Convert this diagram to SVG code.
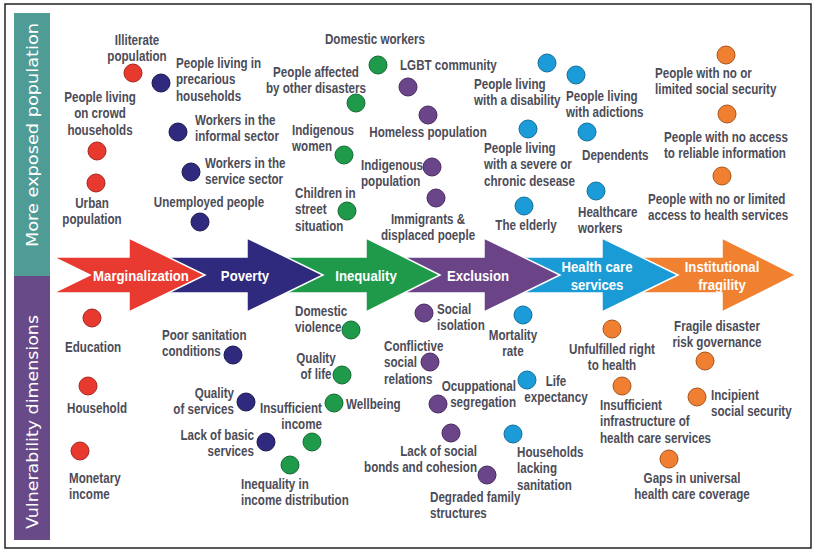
<svg xmlns="http://www.w3.org/2000/svg" width="818" height="552" viewBox="0 0 818 552">
<style>
.t{font-family:"Liberation Sans",Arial,sans-serif;font-weight:bold;font-size:14px;fill:#4c4c58}
.m{text-anchor:middle}.e{text-anchor:end}
.a{font-family:"Liberation Sans",Arial,sans-serif;font-weight:bold;font-size:15.5px;fill:#fff;text-anchor:middle}
.side{font-family:"DejaVu Sans",sans-serif;font-size:16px;fill:#fff;text-anchor:middle}
.ar{stroke:#fff;stroke-width:1.5;stroke-linejoin:miter}
circle{stroke-width:1}
.cr{fill:#e8392f;stroke:#a3281f}
.cn{fill:#2f2a7e;stroke:#1c1950}
.cg{fill:#1f9a4b;stroke:#136a32}
.cp{fill:#6b4589;stroke:#48295e}
.cb{fill:#1b9bd7;stroke:#126f9c}
.co{fill:#f07f32;stroke:#a8531a}
</style>
<rect x="5" y="4" width="806" height="544" fill="#fff" stroke="#222" stroke-width="1.5"/>
<g id="side-panel">
<rect x="14" y="13" width="36" height="263" fill="#4f9c97"/>
<rect x="14" y="276" width="36" height="264" fill="#694a88"/>
<text class="side" transform="translate(37.5 135) rotate(-90)" textLength="224" lengthAdjust="spacingAndGlyphs">More exposed population</text>
<text class="side" transform="translate(37.5 422) rotate(-90)" textLength="214" lengthAdjust="spacingAndGlyphs">Vulnerability dimensions</text>
</g>
<g id="arrows">
<polygon class="ar" fill="#f08131" points="615,257 722,257 722,238 796,275 722,312 722,293 615,293"/>
<polygon class="ar" fill="#1a9bd5" points="500,257 602,257 602,238 678,275 602,312 602,293 500,293"/>
<polygon class="ar" fill="#6b4387" points="380,257 484,257 484,238 560,275 484,312 484,293 380,293"/>
<polygon class="ar" fill="#1f9a4b" points="260,257 366,257 366,238 440,275 366,312 366,293 260,293"/>
<polygon class="ar" fill="#2f2a7e" points="140,257 247,257 247,238 323,275 247,312 247,293 140,293"/>
<polygon class="ar" fill="#e83a30" points="53,257 129,257 129,238 205,275 129,312 129,293 53,293 90,275"/>
<text class="a" transform="translate(141 280.5) scale(0.85 1)">Marginalization</text>
<text class="a" transform="translate(245 280.5) scale(0.85 1)">Poverty</text>
<text class="a" transform="translate(366 280.5) scale(0.85 1)">Inequality</text>
<text class="a" transform="translate(478 280.5) scale(0.85 1)">Exclusion</text>
<text class="a" transform="translate(597 272) scale(0.85 1)"><tspan x="0">Health care</tspan><tspan x="0" dy="18">services</tspan></text>
<text class="a" transform="translate(722 272) scale(0.85 1)"><tspan x="0">Institutional</tspan><tspan x="0" dy="18">fragility</tspan></text>
</g>
<g id="n1"><circle class="cr" cx="133" cy="73" r="9"/><text class="t m" transform="translate(137 45) scale(0.83 1)"><tspan x="0">Illiterate</tspan><tspan x="0" dy="16.5">population</tspan></text></g>
<g id="n2"><circle class="cr" cx="97" cy="151" r="9"/><text class="t m" transform="translate(100 102) scale(0.83 1)"><tspan x="0">People living</tspan><tspan x="0" dy="16.5">on crowd</tspan><tspan x="0" dy="16.5">households</tspan></text></g>
<g id="n3"><circle class="cr" cx="96" cy="183" r="9"/><text class="t m" transform="translate(92 208) scale(0.83 1)"><tspan x="0">Urban</tspan><tspan x="0" dy="16.5">population</tspan></text></g>
<g id="n4"><circle class="cn" cx="161" cy="83" r="9"/><text class="t" transform="translate(176 68) scale(0.83 1)"><tspan x="0">People living in</tspan><tspan x="0" dy="16.5">precarious</tspan><tspan x="0" dy="16.5">households</tspan></text></g>
<g id="n5"><circle class="cn" cx="178" cy="132" r="9"/><text class="t" transform="translate(195 125) scale(0.83 1)"><tspan x="0">Workers in the</tspan><tspan x="0" dy="16.5">informal sector</tspan></text></g>
<g id="n6"><circle class="cn" cx="191" cy="172" r="9"/><text class="t" transform="translate(205 168) scale(0.83 1)"><tspan x="0">Workers in the</tspan><tspan x="0" dy="16.5">service sector</tspan></text></g>
<g id="n7"><circle class="cn" cx="200" cy="222" r="9"/><text class="t m" transform="translate(209 207) scale(0.83 1)">Unemployed people</text></g>
<g id="n8"><circle class="cg" cx="378" cy="65" r="9"/><text class="t m" transform="translate(375 44) scale(0.83 1)">Domestic workers</text></g>
<g id="n9"><circle class="cg" cx="356" cy="103" r="9"/><text class="t m" transform="translate(316 77) scale(0.83 1)"><tspan x="0">People affected</tspan><tspan x="0" dy="16.5">by other disasters</tspan></text></g>
<g id="n10"><circle class="cg" cx="344" cy="155" r="9"/><text class="t" transform="translate(292 135) scale(0.83 1)"><tspan x="0">Indigenous</tspan><tspan x="0" dy="16.5">women</tspan></text></g>
<g id="n11"><circle class="cg" cx="347" cy="211" r="9"/><text class="t" transform="translate(295 198) scale(0.83 1)"><tspan x="0">Children in</tspan><tspan x="0" dy="16.5">street</tspan><tspan x="0" dy="16.5">situation</tspan></text></g>
<g id="n12"><circle class="cp" cx="408" cy="87" r="9"/><text class="t" transform="translate(400 70) scale(0.83 1)">LGBT community</text></g>
<g id="n13"><circle class="cp" cx="428" cy="115" r="9"/><text class="t m" transform="translate(428 137) scale(0.83 1)">Homeless population</text></g>
<g id="n14"><circle class="cp" cx="432" cy="167" r="9"/><text class="t" transform="translate(361 170) scale(0.83 1)"><tspan x="0">Indigenous</tspan><tspan x="0" dy="16.5">population</tspan></text></g>
<g id="n15"><circle class="cp" cx="436" cy="198" r="9"/><text class="t m" transform="translate(428 224) scale(0.83 1)"><tspan x="0">Immigrants &amp;</tspan><tspan x="0" dy="16.5">displaced poeple</tspan></text></g>
<g id="n16"><circle class="cb" cx="547" cy="63" r="9"/><text class="t" transform="translate(474 89) scale(0.83 1)"><tspan x="0">People living</tspan><tspan x="0" dy="16.5">with a disability</tspan></text></g>
<g id="n17"><circle class="cb" cx="576" cy="75" r="9"/><text class="t" transform="translate(566 101) scale(0.83 1)"><tspan x="0">People living</tspan><tspan x="0" dy="16.5">with adictions</tspan></text></g>
<g id="n18"><circle class="cb" cx="528" cy="129" r="9"/><text class="t" transform="translate(484 153) scale(0.83 1)"><tspan x="0">People living</tspan><tspan x="0" dy="16.5">with a severe or</tspan><tspan x="0" dy="16.5">chronic desease</tspan></text></g>
<g id="n19"><circle class="cb" cx="587" cy="132" r="9"/><text class="t" transform="translate(582 160) scale(0.83 1)">Dependents</text></g>
<g id="n20"><circle class="cb" cx="524" cy="206" r="9"/><text class="t m" transform="translate(526 230) scale(0.83 1)">The elderly</text></g>
<g id="n21"><circle class="cb" cx="596" cy="191" r="9"/><text class="t" transform="translate(578 217) scale(0.83 1)"><tspan x="0">Healthcare</tspan><tspan x="0" dy="16.5">workers</tspan></text></g>
<g id="n22"><circle class="co" cx="726" cy="55" r="9"/><text class="t" transform="translate(655 78) scale(0.83 1)"><tspan x="0">People with no or</tspan><tspan x="0" dy="16.5">limited social security</tspan></text></g>
<g id="n23"><circle class="co" cx="727" cy="114" r="9"/><text class="t" transform="translate(664 142) scale(0.83 1)"><tspan x="0">People with no access</tspan><tspan x="0" dy="16.5">to reliable information</tspan></text></g>
<g id="n24"><circle class="co" cx="722" cy="176" r="9"/><text class="t" transform="translate(648 204) scale(0.83 1)"><tspan x="0">People with no or limited</tspan><tspan x="0" dy="16.5">access to health services</tspan></text></g>
<g id="b1"><circle class="cr" cx="92" cy="318" r="9"/><text class="t" transform="translate(65 352) scale(0.83 1)">Education</text></g>
<g id="b2"><circle class="cr" cx="88" cy="386" r="9"/><text class="t" transform="translate(67 413) scale(0.83 1)">Household</text></g>
<g id="b3"><circle class="cr" cx="80" cy="451" r="9"/><text class="t" transform="translate(69 483) scale(0.83 1)"><tspan x="0">Monetary</tspan><tspan x="0" dy="16.5">income</tspan></text></g>
<g id="b4"><circle class="cn" cx="233" cy="355" r="9"/><text class="t" transform="translate(162 340) scale(0.83 1)"><tspan x="0">Poor sanitation</tspan><tspan x="0" dy="16.5">conditions</tspan></text></g>
<g id="b5"><circle class="cn" cx="246" cy="402" r="9"/><text class="t e" transform="translate(234 398) scale(0.83 1)"><tspan x="0">Quality</tspan><tspan x="0" dy="16.5">of services</tspan></text></g>
<g id="b6"><circle class="cn" cx="266" cy="442" r="9"/><text class="t e" transform="translate(254 440) scale(0.83 1)"><tspan x="0">Lack of basic</tspan><tspan x="0" dy="16.5">services</tspan></text></g>
<g id="b7"><circle class="cg" cx="351" cy="330" r="9"/><text class="t" transform="translate(295 316) scale(0.83 1)"><tspan x="0">Domestic</tspan><tspan x="0" dy="16.5">violence</tspan></text></g>
<g id="b8"><circle class="cg" cx="342" cy="375" r="9"/><text class="t m" transform="translate(316 363) scale(0.83 1)"><tspan x="0">Quality</tspan><tspan x="0" dy="16.5">of life</tspan></text></g>
<g id="b9"><circle class="cg" cx="334" cy="403" r="9"/><text class="t" transform="translate(346 409) scale(0.83 1)">Wellbeing</text></g>
<g id="b10"><circle class="cg" cx="312" cy="442" r="9"/><text class="t e" transform="translate(322 413) scale(0.83 1)"><tspan x="0">Insufficient</tspan><tspan x="0" dy="16.5">income</tspan></text></g>
<g id="b11"><circle class="cg" cx="290" cy="465" r="9"/><text class="t" transform="translate(241 489) scale(0.83 1)"><tspan x="0">Inequality in</tspan><tspan x="0" dy="16.5">income distribution</tspan></text></g>
<g id="b12"><circle class="cp" cx="424" cy="313" r="9"/><text class="t" transform="translate(437 314) scale(0.83 1)"><tspan x="0">Social</tspan><tspan x="0" dy="16.5">isolation</tspan></text></g>
<g id="b13"><circle class="cp" cx="430" cy="362" r="9"/><text class="t" transform="translate(384 351) scale(0.83 1)"><tspan x="0">Conflictive</tspan><tspan x="0" dy="16.5">social</tspan><tspan x="0" dy="16.5">relations</tspan></text></g>
<g id="b14"><circle class="cp" cx="438" cy="404" r="9"/><text class="t e" transform="translate(516 391) scale(0.83 1)"><tspan x="0">Ocuppational</tspan><tspan x="0" dy="16.5">segregation</tspan></text></g>
<g id="b15"><circle class="cp" cx="451" cy="433" r="9"/><text class="t e" transform="translate(477 456) scale(0.83 1)"><tspan x="0">Lack of social</tspan><tspan x="0" dy="16.5">bonds and cohesion</tspan></text></g>
<g id="b16"><circle class="cp" cx="487" cy="475" r="9"/><text class="t" transform="translate(430 502) scale(0.83 1)"><tspan x="0">Degraded family</tspan><tspan x="0" dy="16.5">structures</tspan></text></g>
<g id="b17"><circle class="cb" cx="523" cy="315" r="9"/><text class="t m" transform="translate(513 340) scale(0.83 1)"><tspan x="0">Mortality</tspan><tspan x="0" dy="16.5">rate</tspan></text></g>
<g id="b18"><circle class="cb" cx="527" cy="380" r="9"/><text class="t m" transform="translate(556 386) scale(0.83 1)"><tspan x="0">Life</tspan><tspan x="0" dy="16.5">expectancy</tspan></text></g>
<g id="b19"><circle class="cb" cx="513" cy="434" r="9"/><text class="t" transform="translate(517 457) scale(0.83 1)"><tspan x="0">Households</tspan><tspan x="0" dy="16.5">lacking</tspan><tspan x="0" dy="16.5">sanitation</tspan></text></g>
<g id="b20"><circle class="co" cx="612" cy="329" r="9"/><text class="t m" transform="translate(612 354) scale(0.83 1)"><tspan x="0">Unfulfilled right</tspan><tspan x="0" dy="16.5">to health</tspan></text></g>
<g id="b21"><circle class="co" cx="705" cy="361" r="9"/><text class="t m" transform="translate(717 331) scale(0.83 1)"><tspan x="0">Fragile disaster</tspan><tspan x="0" dy="16.5">risk governance</tspan></text></g>
<g id="b22"><circle class="co" cx="622" cy="386" r="9"/><text class="t" transform="translate(600 410) scale(0.83 1)"><tspan x="0">Insufficient</tspan><tspan x="0" dy="16.5">infrastructure of</tspan><tspan x="0" dy="16.5">health care services</tspan></text></g>
<g id="b23"><circle class="co" cx="697" cy="397" r="9"/><text class="t" transform="translate(711 400) scale(0.83 1)"><tspan x="0">Incipient</tspan><tspan x="0" dy="16.5">social security</tspan></text></g>
<g id="b24"><circle class="co" cx="669" cy="459" r="9"/><text class="t m" transform="translate(692 483) scale(0.83 1)"><tspan x="0">Gaps in universal</tspan><tspan x="0" dy="16.5">health care coverage</tspan></text></g>
</svg>
